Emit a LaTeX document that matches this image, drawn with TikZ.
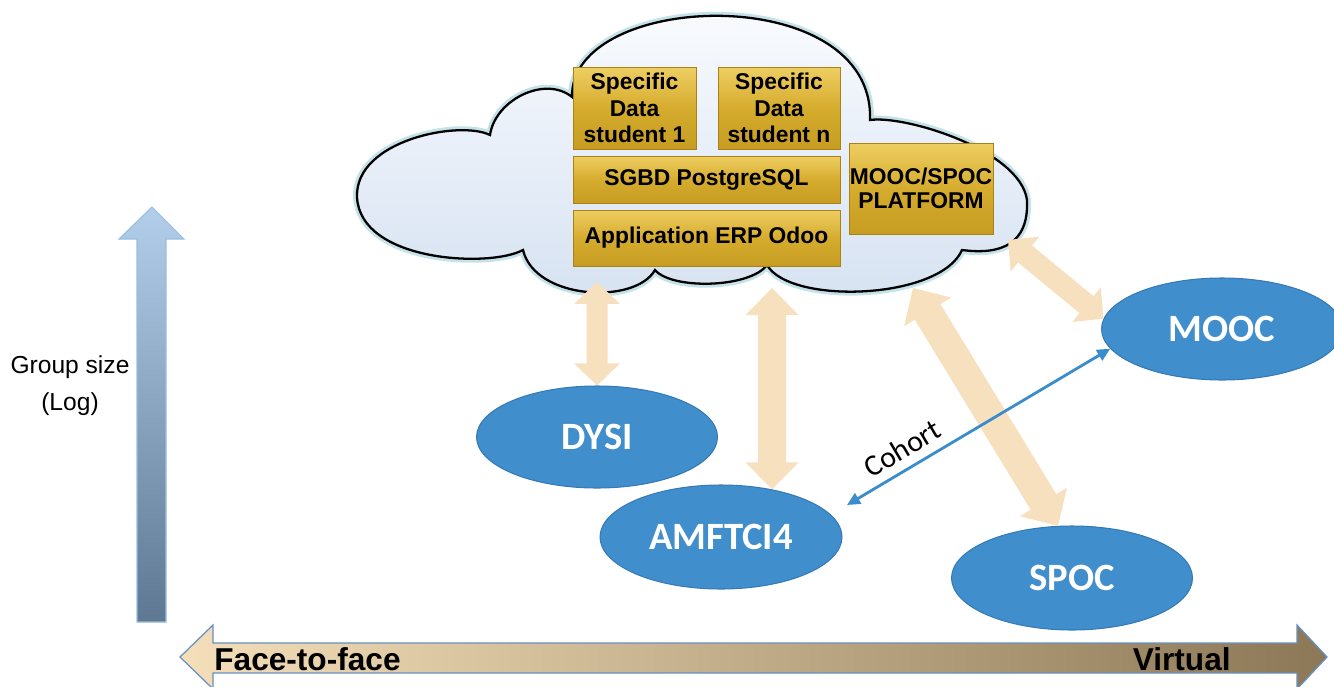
\documentclass[tikz,border=0pt]{standalone}
\usepackage{fontspec}
\setmainfont{Liberation Sans}
\newfontfamily\carlito{Carlito}
\usetikzlibrary{shapes.geometric,calc,arrows.meta}
\definecolor{tanA}{RGB}{247,224,190}
\definecolor{goldM}{RGB}{214,172,46}
\definecolor{goldT}{RGB}{238,206,98}
\definecolor{goldB}{RGB}{198,156,34}
\definecolor{goldE}{RGB}{170,130,20}
\definecolor{ellB}{RGB}{64,142,204}
\definecolor{ellE}{RGB}{52,122,182}
\definecolor{cohB}{RGB}{58,140,204}
\definecolor{cloudT}{RGB}{252,253,255}
\definecolor{cloudB}{RGB}{214,226,242}
\definecolor{glowC}{RGB}{196,226,234}
\definecolor{vaxT}{RGB}{178,206,234}
\definecolor{vaxB}{RGB}{94,120,146}
\definecolor{vaxE}{RGB}{150,190,225}
\definecolor{haxL}{RGB}{244,223,186}
\definecolor{haxM}{RGB}{222,200,158}
\definecolor{haxR}{RGB}{140,120,86}
\definecolor{haxE}{RGB}{100,145,195}
% #1 from, #2 to, #3 half shaft, #4 half head, #5 head length
\newcommand\fatarrow[5]{%
  \path (#1) coordinate (fa-a) (#2) coordinate (fa-b);
  \path ($(fa-a)!#5!(fa-b)$) coordinate (fa-ha) ($(fa-b)!#5!(fa-a)$) coordinate (fa-hb);
  \fill[tanA] (fa-a) -- ($(fa-ha)!#4!90:(fa-b)$) -- ($(fa-ha)!#3!90:(fa-b)$)
    -- ($(fa-hb)!#3!-90:(fa-a)$) -- ($(fa-hb)!#4!-90:(fa-a)$) -- (fa-b)
    -- ($(fa-hb)!#4!90:(fa-a)$) -- ($(fa-hb)!#3!90:(fa-a)$)
    -- ($(fa-ha)!#3!-90:(fa-b)$) -- ($(fa-ha)!#4!-90:(fa-b)$) -- cycle;
}
\begin{document}
\begin{tikzpicture}[x=0.02cm,y=-0.02cm,
  goldbox/.style={draw=goldE, line width=0.4pt, top color=goldT, bottom color=goldB,
    middle color=goldM, inner sep=0pt, align=center, text=black,
    font=\bfseries\fontsize{13}{15}\selectfont},
  ell/.style={ellipse, draw=ellE, line width=0.6pt, fill=ellB, inner sep=0pt,
    minimum width=4.82cm, minimum height=2.04cm, text=white,
    font=\carlito\bfseries\fontsize{22}{26}\selectfont},
  cloudline/.style={draw=black, line width=1.3pt, top color=cloudT, bottom color=cloudB,
    preaction={draw=glowC, line width=4.5pt}},
  cohort/.style={draw=cohB, line width=1.6pt,
    {Triangle[length=0.26cm,width=0.24cm]}-{Triangle[length=0.26cm,width=0.24cm]}},
  axislabel/.style={font=\bfseries\fontsize{18}{20}\selectfont, inner sep=0pt}]
\useasboundingbox (0,0) rectangle (1334,686);

% ---------- vertical axis ----------
\shade[top color=vaxT, bottom color=vaxB, draw=vaxE, line width=0.6pt]
  (137,622) -- (137,239) -- (119,239) -- (152,207) -- (184,239) -- (166,239) -- (166,622) -- cycle;
\node[align=center, font=\fontsize{14}{21}\selectfont] (gs) at (70,386) {Group size\\(Log)};

% ---------- horizontal axis ----------
\shade[left color=haxL, middle color=haxM, right color=haxR, draw=haxE, line width=0.7pt]
  (180,657) -- (213,625) -- (213,643) -- (1297,643) -- (1297,625) -- (1327,657)
  -- (1297,689) -- (1297,673) -- (213,673) -- (213,689) -- cycle;
\node[axislabel, anchor=base west] (f2f) at (214,670) {Face-to-face};
\node[axislabel, anchor=base east] (virt) at (1231,670) {Virtual};

% ---------- cloud ----------
\path[cloudline] (523,250) .. controls (490,268) and (360,262) .. (357,197)
  .. controls (355,140) and (460,120) .. (490,135)
  .. controls (495,100) and (545,75) .. (572,97)
  .. controls (570,-10) and (875,-20) .. (870,120)
  .. controls (905,115) and (1020,150) .. (1027,200)
  .. controls (1029,245) and (1000,255) .. (962,250)
  .. controls (940,300) and (790,305) .. (767,265)
  .. controls (750,288) and (672,290) .. (655,270)
  .. controls (635,305) and (535,300) .. cycle;

% ---------- boxes ----------
\node[goldbox, minimum width=2.46cm, minimum height=1.64cm] (b1) at (634.5,108) {Specific\\Data\\student 1};
\node[goldbox, minimum width=2.44cm, minimum height=1.64cm] (b2) at (779,108) {Specific\\Data\\student n};
\node[goldbox, minimum width=5.34cm, minimum height=0.94cm] (sgbd) at (706.5,179.5) {SGBD PostgreSQL};
\node[goldbox, minimum width=5.34cm, minimum height=1.12cm] (app) at (706.5,238) {Application ERP Odoo};
\node[goldbox, minimum width=2.88cm, minimum height=1.82cm, font=\bfseries\fontsize{13}{13.6}\selectfont] (plat) at (921,188.5) {MOOC/SPOC\\PLATFORM};

% ---------- ellipses ----------
\node[ell] (dysi) at (597,437) {DYSI};
\node[ell, minimum width=4.84cm, minimum height=2.08cm] (amf) at (721,537) {AMFTCI4};
\node[ell] (mooc) at (1222,329) {MOOC};
\node[ell, minimum height=2.08cm] (spoc) at (1072,578) {SPOC};

% ---------- cloud attachment points ----------
\coordinate (c1) at (597,282);
\coordinate (c2) at (772,288);
\coordinate (c3) at (913,288);
\coordinate (c4) at (1008,240);
\coordinate (cohL) at (847,505);

% ---------- tan double arrows ----------
\fatarrow{c1}{dysi.north}{0.21cm}{0.46cm}{0.44cm}
\fatarrow{c2}{amf.43}{0.28cm}{0.53cm}{0.54cm}
\fatarrow{c3}{spoc.105}{0.3cm}{0.55cm}{0.56cm}
\fatarrow{c4}{mooc.175}{0.22cm}{0.45cm}{0.44cm}

% ---------- cohort ----------
\draw[cohort] (cohL) -- node[pos=0.25, sloped, above=5pt, inner sep=0pt, text=black,
  font=\carlito\fontsize{17}{20}\selectfont] (coh) {Cohort} (mooc.190);
\end{tikzpicture}
\end{document}
